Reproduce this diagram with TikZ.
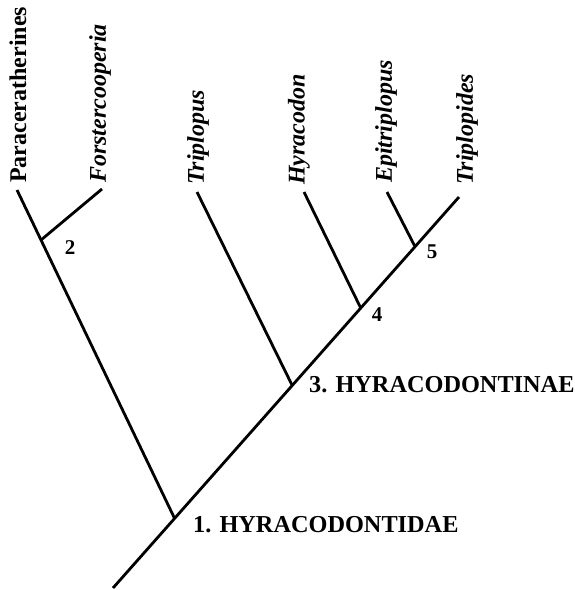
\documentclass[tikz,border=0pt]{standalone}
\usepackage{fontspec}
\setmainfont{Liberation Serif}
\begin{document}
\begin{tikzpicture}[x=1pt,y=-1pt,
  branch/.style={line width=2.8pt,line cap=butt},
  taxon/.style={rotate=90,anchor=west,inner sep=0pt,font=\fontsize{24}{24}\selectfont\bfseries\itshape},
  clade/.style={anchor=west,inner sep=0pt,font=\fontsize{24.3}{24}\selectfont\bfseries},
  num/.style={inner sep=0pt,font=\fontsize{21}{21}\selectfont\bfseries}]
\useasboundingbox (0,0) rectangle (574,590);
% main line
\coordinate (root) at (113,588);
\coordinate (tTriplopides) at (459,197);
\path (root) -- (tTriplopides)
  coordinate[pos=0.178] (n1)
  coordinate[pos=0.518] (n3)
  coordinate[pos=0.716] (n4)
  coordinate[pos=0.873] (n5);
\coordinate (tPara) at (17,190);
\coordinate (n2) at (41,240);
\coordinate (tForst) at (102,189);
\coordinate (tTriplopus) at (197,192);
\coordinate (tHyracodon) at (304,192);
\coordinate (tEpi) at (387,192);
% branches
\draw[branch] (root) -- (tTriplopides);
\draw[branch] (n1) -- (n2) -- (tPara);
\draw[branch] (n2) -- (tForst);
\draw[branch] (n3) -- (tTriplopus);
\draw[branch] (n4) -- (tHyracodon);
\draw[branch] (n5) -- (tEpi);
% taxon labels
\node[taxon,font=\fontsize{24}{24}\selectfont\bfseries] (lPara) at (18,183) {Paraceratherines};
\node[taxon] (lForst) at (100,183) {Forstercooperia};
\node[taxon] (lTriplopus) at (198,185) {Triplopus};
\node[taxon] (lHyracodon) at (299,185) {Hyracodon};
\node[taxon] (lEpi) at (386,183) {Epitriplopus};
\node[taxon] (lTriplopides) at (467,185) {Triplopides};
% node labels
\node[num] (l2) at (70,248) {2};
\node[num] (l4) at (377,315) {4};
\node[num] (l5) at (432,252) {5};
\node[clade] (l3) at (309,385) {3. HYRACODONTINAE};
\node[clade] (l1) at (193,525) {1. HYRACODONTIDAE};
\end{tikzpicture}
\end{document}
